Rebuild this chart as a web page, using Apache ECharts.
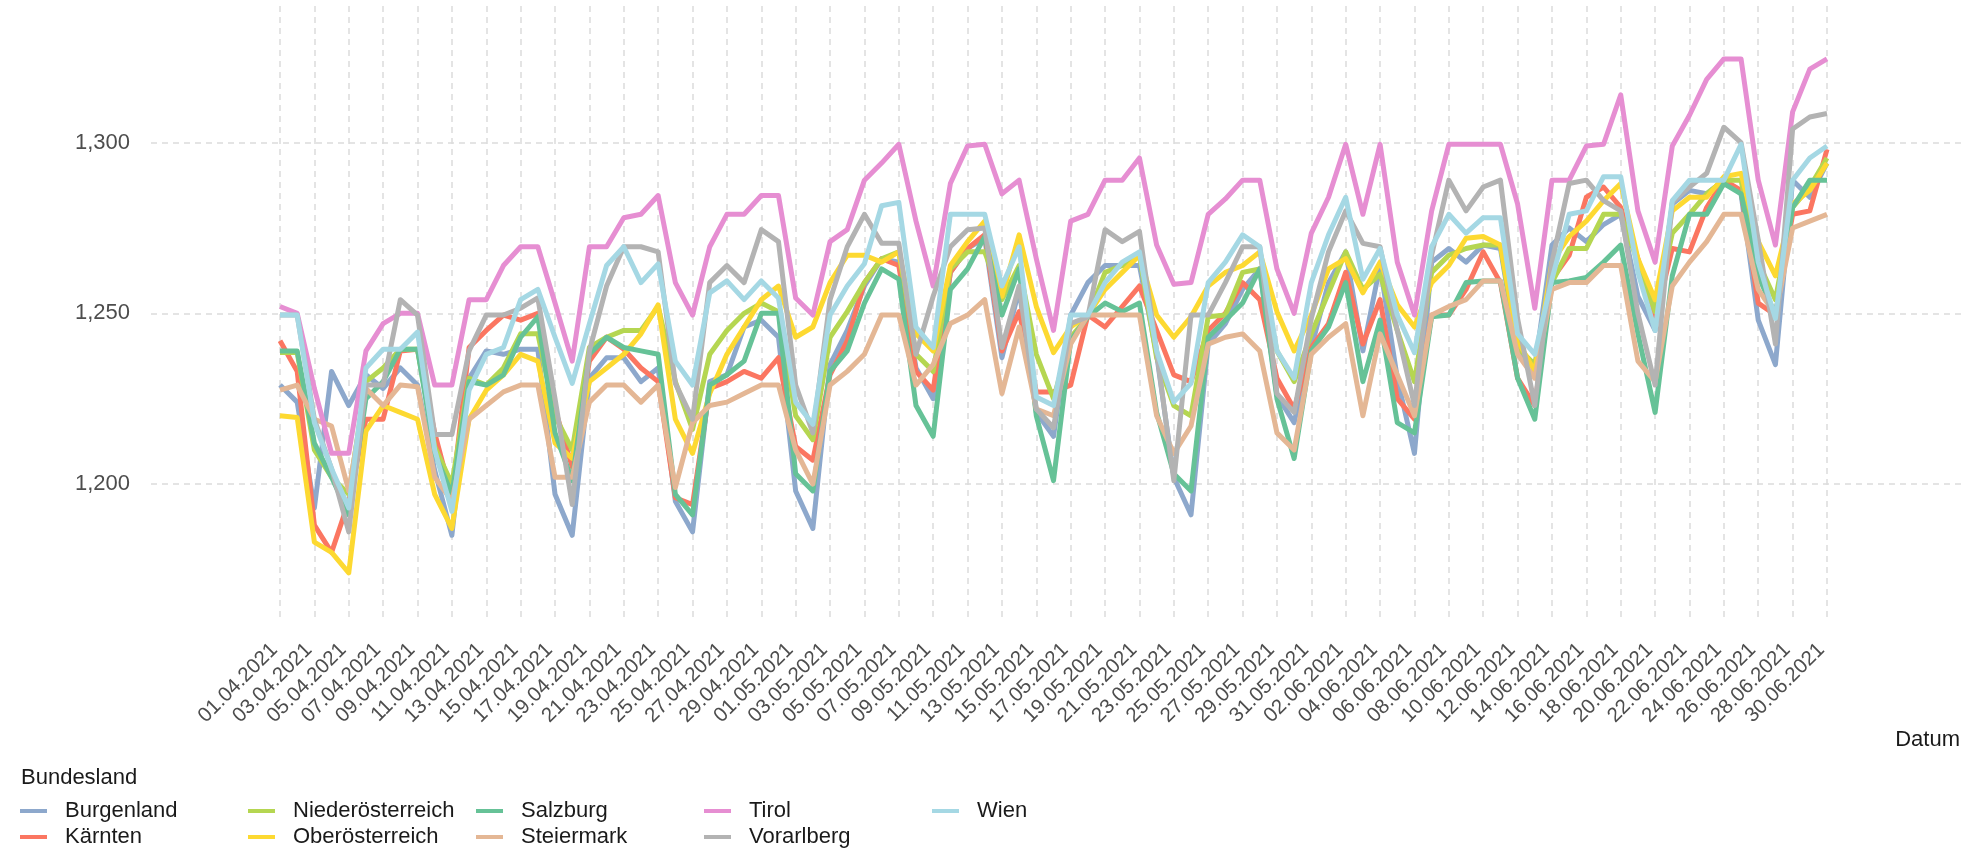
<!DOCTYPE html>
<html><head><meta charset="utf-8">
<script src="https://cdn.jsdelivr.net/npm/echarts@6/dist/echarts.min.js"></script>
<style>html,body{margin:0;padding:0;background:#fff}#c{width:1972px;height:848px}</style>
</head><body><div id="c"></div>
<script>
const dates = [
'01.04.2021','02.04.2021','03.04.2021','04.04.2021','05.04.2021','06.04.2021','07.04.2021','08.04.2021','09.04.2021','10.04.2021',
'11.04.2021','12.04.2021','13.04.2021','14.04.2021','15.04.2021','16.04.2021','17.04.2021','18.04.2021','19.04.2021','20.04.2021',
'21.04.2021','22.04.2021','23.04.2021','24.04.2021','25.04.2021','26.04.2021','27.04.2021','28.04.2021','29.04.2021','30.04.2021',
'01.05.2021','02.05.2021','03.05.2021','04.05.2021','05.05.2021','06.05.2021','07.05.2021','08.05.2021','09.05.2021','10.05.2021',
'11.05.2021','12.05.2021','13.05.2021','14.05.2021','15.05.2021','16.05.2021','17.05.2021','18.05.2021','19.05.2021','20.05.2021',
'21.05.2021','22.05.2021','23.05.2021','24.05.2021','25.05.2021','26.05.2021','27.05.2021','28.05.2021','29.05.2021','30.05.2021',
'31.05.2021','01.06.2021','02.06.2021','03.06.2021','04.06.2021','05.06.2021','06.06.2021','07.06.2021','08.06.2021','09.06.2021',
'10.06.2021','11.06.2021','12.06.2021','13.06.2021','14.06.2021','15.06.2021','16.06.2021','17.06.2021','18.06.2021','19.06.2021',
'20.06.2021','21.06.2021','22.06.2021','23.06.2021','24.06.2021','25.06.2021','26.06.2021','27.06.2021','28.06.2021','29.06.2021','30.06.2021'];

const burgenland = [1229,1224,1193,1233,1223,1232,1228,1234,1229,1204,
1185,1231,1239,1238,1239.5,1239.5,1197,1185,1231,1237,
1237,1230,1234,1195,1186,1230,1232,1246,1248,1243,
1198,1187,1235,1245,1258,1266,1265,1234,1225,1262,
1269,1272,1237,1257,1221,1214,1249.5,1259,1264,1264,
1264,1238,1202,1191,1241,1247,1257,1263,1226,1218,
1240,1259,1268,1239,1264,1231,1209,1265,1269,1265,
1270,1269,1239,1234,1270,1275,1271,1276,1279,1255,
1245,1282,1286,1285,1289,1285,1248,1235,1289,1284,1294];
const kaernten = [1242,1233,1188,1180,1195,1219,1219,1239,1239.5,1215,
1196,1240,1245,1249.5,1248,1250,1222,1205,1236,1243,
1239.5,1234,1230,1196,1194,1228,1230,1233,1231,1237,
1211,1207,1232,1242,1259,1266,1264,1233,1227.5,1262,
1269,1273,1239,1250.5,1227,1227,1229,1249.5,1246,1252,
1258,1245,1232,1230,1245,1250,1259,1254,1231,1222,
1240,1247,1262,1241,1254,1225,1219,1249.5,1249.5,1257,
1268,1259,1231,1223,1260,1267,1284,1287,1281,1266,
1248,1269,1268,1281,1289,1286,1253,1249.5,1279,1280,1298];
const niederoesterreich = [1238.5,1238.5,1210,1202,1197,1230,1234,1239.5,1239.5,1211,
1200,1231,1229,1234,1244,1244,1220,1210,1240,1243,
1245,1245,1252,1230,1216,1238,1245,1250,1253,1250.5,
1220,1213,1243,1250.5,1259,1266,1268,1238,1233,1263,
1268,1268,1254,1264,1238,1225,1243,1249,1262,1264,
1267,1237,1223,1220,1249,1249.5,1262,1263,1239,1230,
1244,1256,1268,1257,1261.5,1245,1230,1262,1267,1269,
1270,1270,1240,1235,1259,1269,1269,1279,1279,1265,
1250.5,1273.5,1279,1285,1289,1289,1265,1254,1281,1287,1295.5];
const oberoesterreich = [1220,1219.5,1183,1180,1174,1215.5,1223,1221,1219,1197,
1187,1219,1227.5,1232,1238,1236,1212,1207.5,1230,1234,
1238,1244,1252.5,1219,1209,1226.5,1238,1246,1254,1258,
1243,1246,1259,1267,1267,1265,1268,1244,1239,1264,
1271,1277,1255,1273,1252,1238.5,1246,1249.5,1257,1262,
1267,1249.5,1243,1249,1258,1262,1264,1268,1250.5,1239,
1249.5,1263,1266,1256,1265,1252.5,1246,1259,1264,1272,
1272.5,1270,1242,1233,1265,1272.5,1277,1283,1288,1266,
1254,1280,1284,1284,1290,1291,1271,1261,1282,1286,1294];
const salzburg = [1239,1239,1212,1202,1191,1225,1230,1239.5,1239.5,1209,
1197,1230,1229,1232,1243,1249,1215,1201,1238,1243,
1240,1239,1238,1197,1191,1229,1232,1236,1250,1250,
1203,1198,1233,1239,1253,1263,1260,1223,1214,1257,
1263,1272.5,1249.5,1263,1220,1201,1242,1249,1253,1250.5,
1253,1221,1203,1198,1243,1248,1253,1263,1225,1207.5,
1239,1246,1259,1230,1248,1218,1215,1249,1249.5,1259,
1259.5,1259.5,1231,1219,1259,1259.5,1260.5,1265,1270,1244,
1221,1261,1279,1279,1288,1285,1261,1249.5,1281,1289,1289];
const steiermark = [1227.5,1229,1219,1217,1198,1228,1223,1229,1228.5,1202,
1195,1219,1223,1227,1229,1229,1202,1202,1224,1229,
1229,1224,1229,1199,1218,1223,1224,1226.5,1229,1229,
1210,1200,1229,1233,1238,1249.5,1249.5,1229,1235,1247,
1249.5,1254,1226.5,1246,1222,1220,1241,1249.5,1249.5,1249.5,
1249.5,1220,1209,1217,1241,1243,1244,1239,1215,1210,
1238,1243,1247,1220,1244,1232,1220,1249.5,1252,1254,
1259.5,1259.5,1238,1231,1257,1259,1259,1264,1264,1236,
1230,1258,1265,1271,1279,1279,1257,1249.5,1275,1277,1279];
const tirol = [1252,1250,1228,1209,1209,1239,1247,1250,1250,1229,
1229,1254,1254,1264,1269.5,1269.5,1253,1236,1269.5,1269.5,
1278,1279,1284.5,1259,1249.5,1269.5,1279,1279,1284.5,1284.5,
1254.5,1249.5,1271,1274.5,1289,1294,1299.5,1277,1258,1288,
1299,1299.5,1285,1289,1266,1245,1277,1279,1289,1289,
1295.5,1270,1258.5,1259,1279,1283.5,1289,1289,1263,1250,
1273.5,1284,1299.5,1279,1299.5,1265,1249.5,1280,1299.5,1299.5,
1299.5,1299.5,1282,1251.5,1289,1289,1299,1299.5,1314,1280,
1265,1299,1308,1318.5,1324.5,1324.5,1289,1270,1309,1321.5,1324.5];
const vorarlberg = [1249.5,1249.5,1219,1204.5,1186,1229,1229,1254,1249.5,1214.5,
1214.5,1239,1249.5,1249.5,1251.5,1254.5,1225,1194,1239,1258,
1269.5,1269.5,1268,1229.5,1219,1259,1264,1259,1274.5,1271,
1229,1215,1254,1269.5,1279,1270.5,1270.5,1238,1255,1269.5,
1274.5,1275,1240,1258,1222,1216.5,1247,1249,1274.5,1271,
1274,1239,1201,1249.5,1249.5,1259,1269.5,1269.5,1226.5,1221,
1248.5,1268,1280,1270.5,1269.5,1245,1223,1267,1289,1280,
1287,1289,1248.5,1223,1265,1288,1289,1283,1280,1250,
1229,1282.5,1287,1291,1304.5,1300,1271.5,1241,1304,1307.5,1308.5];
const wien = [1249.5,1249.5,1218,1204.5,1193,1234,1239.5,1239.5,1244.5,1210,
1192,1227.5,1238,1240,1254,1257,1243,1229.5,1247,1264,
1269.5,1259,1264.5,1236,1229,1256,1259.5,1254,1259.5,1254.5,
1224,1217.5,1249.5,1258,1264.5,1281.5,1282.5,1246,1240,1279,
1279,1279,1258,1269.5,1225.5,1223,1249.5,1249.5,1259,1265,
1268,1239,1224,1229.5,1259,1265,1273,1269.5,1239,1231,
1259,1273,1284,1260,1269,1249.5,1238.5,1269.5,1279,1273.5,
1278,1278,1244,1238,1260,1279,1280,1290,1290,1262,
1245,1283,1289,1289,1289,1299.5,1265,1248.5,1289,1295.5,1299];

const seriesNames = ['Burgenland','Kärnten','Niederösterreich','Oberösterreich','Salzburg','Steiermark','Tirol','Vorarlberg','Wien'];
const seriesData = [burgenland,kaernten,niederoesterreich,oberoesterreich,salzburg,steiermark,tirol,vorarlberg,wien];
const colors = ['#8DA8CC','#FB7661','#B5D651','#FDD931','#66C297','#E4B795','#E68ED2','#B3B3B3','#A5D8E4'];
const yTicks = [1200,1250,1300];
const legendColumns = [['Burgenland','Kärnten'],['Niederösterreich','Oberösterreich'],['Salzburg','Steiermark'],['Tirol','Vorarlberg'],['Wien']];
const legendColX = [20,248,476,704,932];

const FONT = 'Liberation Sans, Arial, Helvetica, sans-serif';
const yMin = 1160.2, yMax = 1340;
const gridLine = {color:'#dcdcdc', width:1.5, type:[6,5]};

const chart = echarts.init(document.getElementById('c'), null, {renderer:'canvas'});
chart.setOption({
  animation:false,
  backgroundColor:'#ffffff',
  textStyle:{fontFamily:FONT},
  grid:[
    {left:151, right:10, top:6, bottom:228},
    {left:280, right:145, top:6, bottom:228}
  ],
  xAxis:[
    {type:'value', gridIndex:0, min:0, max:1, show:false},
    {type:'category', gridIndex:1, data:dates, boundaryGap:false,
     axisLine:{show:false}, axisTick:{show:false},
     axisLabel:{rotate:45, interval:1, margin:21, padding:[0,8,0,0], fontSize:20.5, color:'#4d4d4d', fontFamily:FONT},
     splitLine:{show:true, interval:1, lineStyle:gridLine}}
  ],
  yAxis:[
    {type:'value', gridIndex:0, min:yMin, max:yMax, splitNumber:3,
     axisLine:{show:false}, axisTick:{show:false, customValues:yTicks},
     axisLabel:{customValues:yTicks, margin:21, fontSize:22, color:'#4d4d4d', fontFamily:FONT,
       formatter:v=>Number(v).toLocaleString('en-US')},
     splitLine:{show:true, lineStyle:gridLine}},
    {type:'value', gridIndex:1, min:yMin, max:yMax, show:false, splitLine:{show:false}}
  ],
  legend: legendColumns.map((names,i)=>({
    orient:'vertical', left:legendColX[i], top:800, height:70, padding:0, data:names,
    icon:'rect', itemWidth:27, itemHeight:4, itemGap:4, selectedMode:false,
    textStyle:{fontSize:22, lineHeight:22, color:'#1a1a1a', fontFamily:FONT, padding:[0,0,0,13]}
  })),
  graphic:[
    {type:'text', left:21, top:767, style:{text:'Bundesland', font:'22px '+FONT, fill:'#1a1a1a'}},
    {type:'text', right:12, top:729, style:{text:'Datum', font:'22px '+FONT, fill:'#1a1a1a'}}
  ],
  series: seriesNames.map((n,i)=>({
    name:n, type:'line', xAxisIndex:1, yAxisIndex:1, data:seriesData[i],
    symbol:'none', color:colors[i],
    lineStyle:{width:5, color:colors[i], join:'round'},
    emphasis:{disabled:true}
  }))
});
</script></body></html>
